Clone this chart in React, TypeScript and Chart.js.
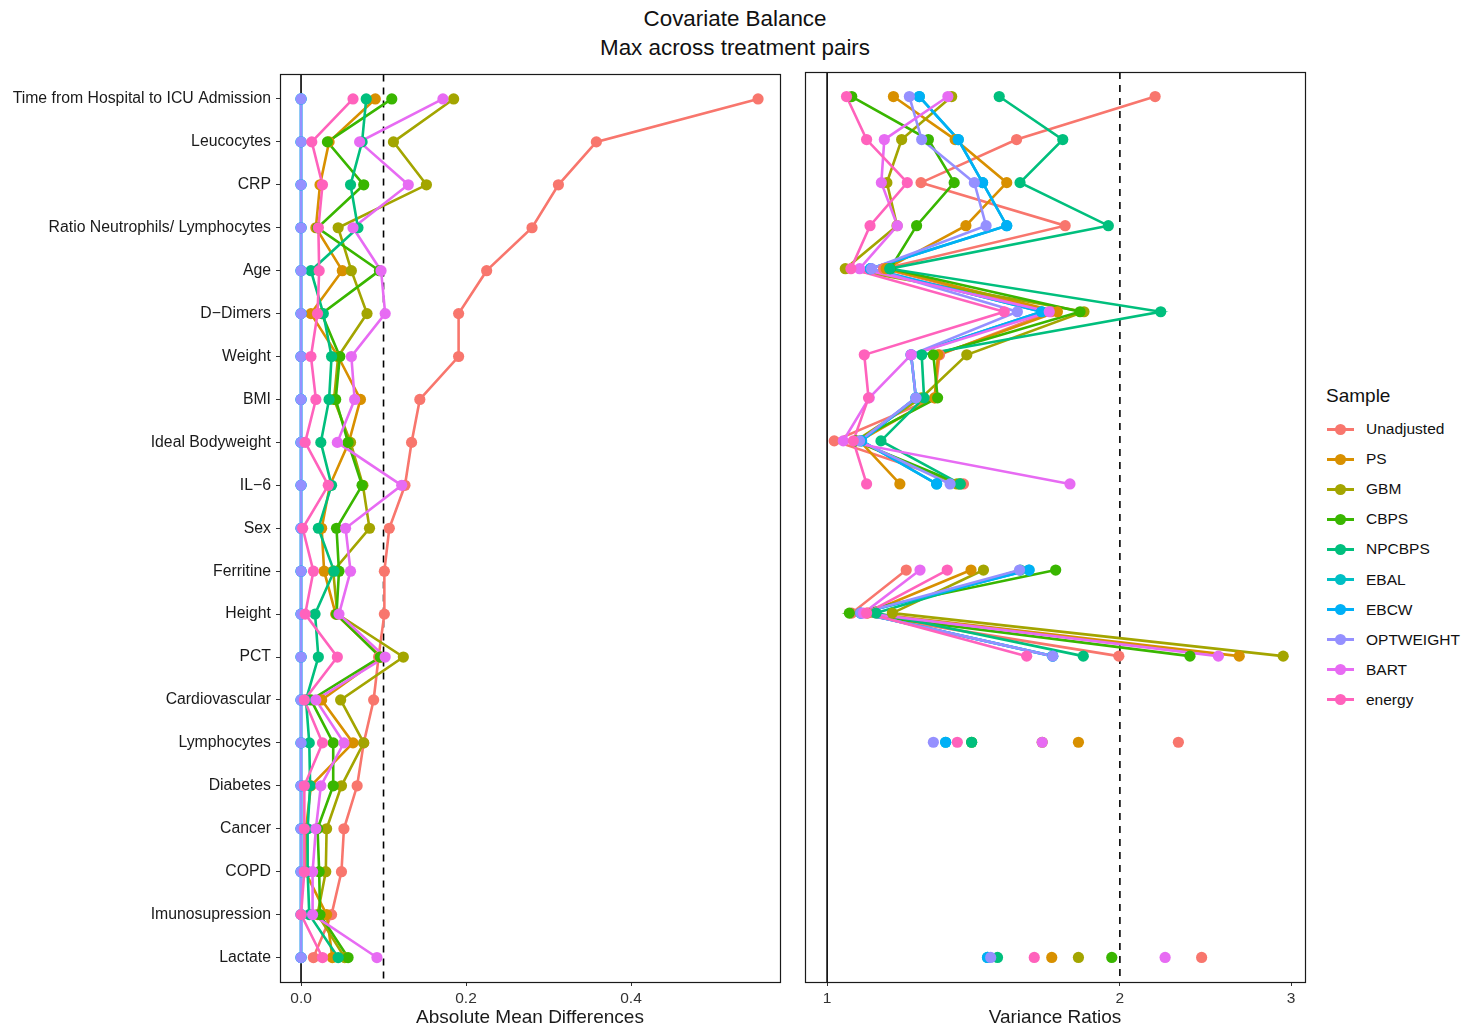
import React, { useEffect, useRef } from "react";
import { Chart, registerables } from "chart.js";
Chart.register(...registerables);

const covariates = [
  "Time from Hospital to ICU Admission", "Leucocytes", "CRP", "Ratio Neutrophils/ Lymphocytes", "Age",
  "D\u2212Dimers", "Weight", "BMI", "Ideal Bodyweight", "IL\u22126", "Sex", "Ferritine", "Height", "PCT",
  "Cardiovascular", "Lymphocytes", "Diabetes", "Cancer", "COPD", "Imunosupression", "Lactate",
];

const samples = ["Unadjusted", "PS", "GBM", "CBPS", "NPCBPS", "EBAL", "EBCW", "OPTWEIGHT", "BART", "energy"];
const sampleColors = ["#F8766D", "#D89000", "#A3A500", "#39B600", "#00BF7D", "#00BFC4", "#00B0F6", "#9590FF", "#E76BF3", "#FF62BC"];

// Absolute mean differences (max across treatment pairs)
const asmdUnadjusted = [0.554, 0.358, 0.312, 0.280, 0.225, 0.191, 0.191, 0.144, 0.134, 0.126, 0.107, 0.101, 0.101, 0.094, 0.088, 0.076, 0.068, 0.052, 0.049, 0.037, 0.015];
const asmdPS = [0.090, 0.034, 0.023, 0.018, 0.050, 0.012, 0.045, 0.072, 0.058, 0.035, 0.025, 0.028, 0.042, 0.097, 0.025, 0.063, 0.012, 0.006, 0.005, 0.031, 0.038];
const asmdGBM = [0.185, 0.112, 0.152, 0.045, 0.061, 0.080, 0.045, 0.040, 0.060, 0.075, 0.083, 0.039, 0.044, 0.124, 0.048, 0.076, 0.049, 0.031, 0.030, 0.020, 0.053];
const asmdCBPS = [0.110, 0.032, 0.076, 0.020, 0.095, 0.025, 0.047, 0.042, 0.057, 0.074, 0.043, 0.046, 0.043, 0.096, 0.012, 0.039, 0.039, 0.020, 0.022, 0.023, 0.057];
const asmdNPCBPS = [0.079, 0.074, 0.060, 0.069, 0.012, 0.027, 0.037, 0.034, 0.024, 0.037, 0.021, 0.040, 0.017, 0.021, 0.006, 0.010, 0.011, 0.008, 0.008, 0.010, 0.045];
const asmdEBAL = [0, 0, 0, 0, 0, 0, 0, 0, 0, 0, 0, 0, 0, 0, 0, 0, 0, 0, 0, 0, 0];
const asmdEBCW = [0, 0, 0, 0, 0, 0, 0, 0, 0, 0, 0, 0, 0, 0, 0, 0, 0, 0, 0, 0, 0];
const asmdOPTWEIGHT = [0, 0, 0, 0, 0, 0, 0, 0, 0, 0, 0, 0, 0, 0, 0, 0, 0, 0, 0, 0, 0];
const asmdBART = [0.172, 0.071, 0.130, 0.063, 0.097, 0.102, 0.061, 0.065, 0.044, 0.122, 0.054, 0.060, 0.046, 0.102, 0.018, 0.052, 0.024, 0.018, 0.014, 0.014, 0.092];
const asmdEnergy = [0.063, 0.013, 0.026, 0.021, 0.022, 0.020, 0.012, 0.018, 0.005, 0.033, 0.002, 0.015, 0.005, 0.044, 0.004, 0.026, 0.004, 0.004, 0.004, 0.000, 0.026];

// Variance ratios (null = binary covariate, no ratio)
const vrUnadjusted = [2.174, 1.566, 1.249, 1.757, 1.143, 1.70, 1.305, 1.29, 1.017, 1.381, null, 1.206, 1.06, 1.995, null, 2.297, null, null, null, null, 2.427];
const vrPS = [1.170, 1.354, 1.530, 1.389, 1.15, 1.725, 1.30, 1.29, 1.08, 1.188, null, 1.406, 1.10, 2.653, null, 1.813, null, null, null, null, 1.702];
const vrGBM = [1.343, 1.193, 1.152, 1.18, 1.044, 1.837, 1.392, 1.25, 1.07, 1.36, null, 1.448, 1.167, 2.944, null, 1.664, null, null, null, null, 1.813];
const vrCBPS = [1.060, 1.271, 1.351, 1.236, 1.161, 1.82, 1.286, 1.299, 1.07, 1.37, null, 1.718, 1.054, 2.361, null, 1.408, null, null, null, null, 1.962];
const vrNPCBPS = [1.503, 1.747, 1.579, 1.946, 1.16, 2.203, 1.251, 1.258, 1.136, 1.370, null, 1.58, 1.123, 1.834, null, 1.408, null, null, null, null, 1.497];
const vrEBAL = [1.244, 1.364, 1.445, 1.530, 1.108, 1.662, 1.22, 1.234, 1.085, 1.296, null, 1.613, 1.083, 1.706, null, 1.324, null, null, null, null, 1.462];
const vrEBCW = [1.244, 1.364, 1.445, 1.530, 1.108, 1.662, 1.22, 1.234, 1.085, 1.296, null, 1.613, 1.083, 1.706, null, 1.324, null, null, null, null, 1.462];
const vrOPTWEIGHT = [1.215, 1.251, 1.417, 1.457, 1.111, 1.569, 1.22, 1.234, 1.08, 1.338, null, 1.577, 1.083, 1.706, null, 1.286, null, null, null, null, 1.473];
const vrBART = [1.331, 1.145, 1.137, 1.181, 1.080, 1.692, 1.220, 1.105, 1.039, 1.777, null, 1.246, 1.09, 2.525, null, 1.664, null, null, null, null, 2.226];
const vrEnergy = [1.047, 1.098, 1.209, 1.107, 1.058, 1.521, 1.092, 1.103, 1.064, 1.098, null, 1.329, 1.098, 1.604, null, 1.361, null, null, null, null, 1.633];

const asmdTicks = [0, 0.2, 0.4];
const vrTicks = [1, 2, 3];

const asmdSeries = [asmdUnadjusted, asmdPS, asmdGBM, asmdCBPS, asmdNPCBPS, asmdEBAL, asmdEBCW, asmdOPTWEIGHT, asmdBART, asmdEnergy];
const vrSeries = [vrUnadjusted, vrPS, vrGBM, vrCBPS, vrNPCBPS, vrEBAL, vrEBCW, vrOPTWEIGHT, vrBART, vrEnergy];

const FONT = "'Liberation Sans', Arial, Helvetica, sans-serif";

function buildDatasets(series: (number | null)[][]) {
  const ds: any[] = [];
  series.forEach((vals, i) => {
    const data = vals.map((v, j) => ({ x: v, y: j }));
    ds.push({
      label: samples[i] + "_line",
      data,
      borderColor: sampleColors[i],
      backgroundColor: sampleColors[i],
      borderWidth: 2.6,
      pointRadius: 0,
      pointHoverRadius: 0,
      showLine: true,
      fill: false,
      tension: 0,
      spanGaps: false,
      order: 100 + (9 - i),
    });
  });
  series.forEach((vals, i) => {
    const data = vals.map((v, j) => ({ x: v, y: j }));
    ds.push({
      label: samples[i],
      data,
      borderColor: sampleColors[i],
      backgroundColor: sampleColors[i],
      pointBackgroundColor: sampleColors[i],
      pointBorderWidth: 0,
      pointRadius: 5.6,
      pointHoverRadius: 5.6,
      showLine: false,
      order: 9 - i,
    });
  });
  return ds;
}

function panelPlugin(solid: number, dashed: number) {
  return {
    id: "panel",
    beforeDatasetsDraw(chart: any) {
      const { ctx, chartArea: a, scales } = chart;
      const xs = scales.x.getPixelForValue(solid);
      const xd = scales.x.getPixelForValue(dashed);
      ctx.save();
      ctx.strokeStyle = "#000";
      ctx.lineWidth = 1.6;
      ctx.beginPath();
      ctx.moveTo(xs, a.top);
      ctx.lineTo(xs, a.bottom);
      ctx.stroke();
      ctx.setLineDash([7, 6]);
      ctx.beginPath();
      ctx.moveTo(xd, a.top);
      ctx.lineTo(xd, a.bottom);
      ctx.stroke();
      ctx.restore();
    },
    afterDatasetsDraw(chart: any) {
      const { ctx, chartArea: a } = chart;
      ctx.save();
      ctx.strokeStyle = "#1a1a1a";
      ctx.lineWidth = 1.2;
      ctx.strokeRect(Math.round(a.left) + 0.5, Math.round(a.top) + 0.5, Math.round(a.right - a.left), Math.round(a.bottom - a.top));
      ctx.restore();
    },
  };
}

function ChartCanvas(props: { kind: "asmd" | "vr"; width: number; height: number; left: number; top: number }) {
  const ref = useRef<HTMLCanvasElement | null>(null);
  useEffect(() => {
    if (!ref.current) return;
    const isAsmd = props.kind === "asmd";
    const chart = new Chart(ref.current, {
      type: "line",
      data: { datasets: buildDatasets(isAsmd ? asmdSeries : vrSeries) as any },
      plugins: [panelPlugin(isAsmd ? 0 : 1, isAsmd ? 0.1 : 2) as any],
      options: {
        responsive: false,
        animation: false,
        devicePixelRatio: 1,
        indexAxis: "y",
        events: [],
        layout: { padding: isAsmd ? { top: 12, right: 10, left: 0, bottom: 0 } : { top: 12, right: 15, left: 15, bottom: 0 } },
        plugins: { legend: { display: false }, tooltip: { enabled: false }, title: { display: false } },
        scales: {
          x: {
            type: isAsmd ? "linear" : "logarithmic",
            position: "bottom",
            min: isAsmd ? -0.0255 : 0.949,
            max: isAsmd ? 0.5806 : 3.1,
            afterBuildTicks: (scale: any) => {
              scale.ticks = (isAsmd ? asmdTicks : vrTicks).map((v) => ({ value: v }));
            },
            afterFit: (scale: any) => {
              scale.height = 48;
            },
            border: { display: false },
            grid: { display: true, drawOnChartArea: false, drawTicks: true, tickLength: 4, color: "#333", lineWidth: 1 },
            ticks: {
              autoSkip: false,
              maxRotation: 0,
              padding: 3,
              color: "#333",
              font: { family: FONT, size: 15.5 },
              callback: (v: any) => (isAsmd ? Number(v).toFixed(1) : String(v)),
            },
            title: {
              display: true,
              text: isAsmd ? "Absolute Mean Differences" : "Variance Ratios",
              color: "#1a1a1a",
              font: { family: FONT, size: 19 },
              padding: { top: 0, bottom: 1 },
            },
          },
          y: {
            type: "linear",
            display: isAsmd,
            reverse: true,
            min: -0.57,
            max: 20.57,
            afterBuildTicks: (scale: any) => {
              scale.ticks = covariates.map((_, i) => ({ value: i }));
            },
            afterFit: (scale: any) => {
              scale.width = isAsmd ? 280 : 0;
            },
            border: { display: false },
            grid: { display: true, drawOnChartArea: false, drawTicks: true, tickLength: 4, color: "#333", lineWidth: 1 },
            ticks: {
              autoSkip: false,
              padding: 5,
              color: "#1a1a1a",
              font: { family: FONT, size: 15.8 },
              callback: (v: any) => covariates[Number(v)] ?? "",
            },
          },
        },
      } as any,
    });
    return () => chart.destroy();
  }, [props.kind]);
  return (
    <canvas
      ref={ref}
      width={props.width}
      height={props.height}
      style={{ position: "absolute", left: props.left, top: props.top, width: props.width, height: props.height }}
    />
  );
}

export default function App() {
  return (
    <div style={{ position: "absolute", left: 0, top: 0, width: 1461, height: 1030, background: "#fff", fontFamily: FONT, overflow: "hidden" }}>
      <div style={{ position: "absolute", left: 435, width: 600, top: 4, textAlign: "center", fontSize: 22.4, lineHeight: "29px", color: "#111" }}>
        <div>Covariate Balance</div>
        <div>Max across treatment pairs</div>
      </div>
      <ChartCanvas kind="asmd" left={0} top={60} width={790} height={970} />
      <ChartCanvas kind="vr" left={790} top={60} width={530} height={970} />
      <div style={{ position: "absolute", left: 1326, top: 384, fontSize: 19, lineHeight: "24px", color: "#111" }}>Sample</div>
      {samples.map((s, i) => (
        <div key={s} style={{ position: "absolute", left: 1326, top: 429 + i * 30.1 - 12, height: 24, width: 135 }}>
          <div style={{ position: "absolute", left: 1, top: 10.5, width: 27, height: 3, background: sampleColors[i] }} />
          <div style={{ position: "absolute", left: 9, top: 6.5, width: 11, height: 11, borderRadius: "50%", background: sampleColors[i] }} />
          <div style={{ position: "absolute", left: 40, top: 0, fontSize: 15.5, lineHeight: "24px", color: "#111", whiteSpace: "nowrap" }}>{s}</div>
        </div>
      ))}
    </div>
  );
}
